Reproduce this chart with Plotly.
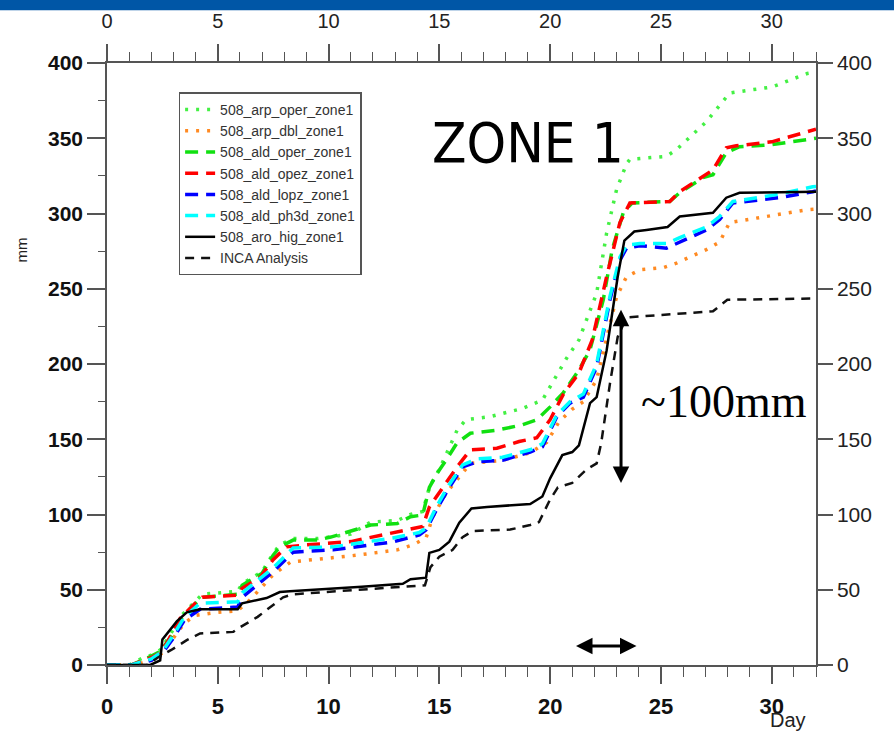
import plotly.graph_objects as go

# ---------------- data (day, accumulated mm) ----------------
arp_oper_day = [0, 1.0, 1.6, 2.0, 2.4, 2.85, 3.3, 3.85, 4.3, 5.9, 6.1, 7.0, 7.5, 7.8, 8.4, 9.5, 11, 11.9, 13.1, 13.7, 14.25, 14.55, 15.0, 15.8, 16.2, 17.3, 18.75, 19.65, 20.4, 20.75, 21.3, 22.1, 22.55, 23.0, 23.45, 23.6, 25.25, 25.7, 27.05, 28.1, 29.0, 30.0, 31.6, 32]
arp_oper_mm = [0, 0, 4.6, 6.6, 10, 20, 32, 40, 47, 49, 54, 62, 74, 80, 84, 84, 87, 95, 96, 100, 102, 118, 130, 156, 163, 165, 170.5, 176, 195, 204, 216, 247, 287, 316, 333, 336, 338, 342.4, 361, 380, 382, 384, 393, 394]

arp_dbl_day = [0, 1.2, 2.0, 2.5, 3.0, 3.5, 4.0, 5.0, 5.9, 6.5, 7.5, 8.3, 10.0, 11.3, 13.1, 13.8, 14.4, 14.7, 15.3, 15.8, 16.4, 17.85, 19.1, 19.85, 20.4, 21.0, 21.5, 22.1, 22.55, 23.0, 23.45, 24.05, 25.1, 25.7, 27.05, 27.65, 28.1, 29.3, 31.6, 32]
arp_dbl_mm = [0, 0, 3, 8, 18, 28, 33, 35, 36, 44, 60, 68.5, 71, 73, 76.5, 79.8, 84.4, 98.4, 114, 123, 134, 136, 141, 148, 161.6, 170, 175, 189.5, 218, 244.7, 258, 262.6, 264, 267, 276, 281, 294, 297, 302.5, 303]

ald_oper_day = [0, 1.1, 2.0, 2.4, 2.85, 3.3, 3.85, 4.3, 5.9, 6.1, 7.0, 7.5, 7.8, 8.4, 9.5, 10.1, 11.9, 13.1, 13.7, 14.25, 14.55, 14.9, 15.3, 15.8, 16.4, 17.6, 18.75, 19.4, 20.0, 20.6, 21.3, 21.8, 22.4, 22.8, 23.3, 23.7, 25.4, 25.85, 26.9, 27.35, 27.95, 28.55, 30.0, 31.85, 32]
ald_oper_mm = [0, 0, 6, 9, 18, 30, 39, 45, 47, 53, 61, 73, 78.5, 83, 83, 85, 93, 94, 98.5, 99.7, 118, 127.5, 136, 147.6, 154, 156, 159.6, 163, 171.5, 181, 196, 209.4, 242.7, 276, 300.5, 307, 308, 313.8, 323.8, 325.8, 340.4, 344.4, 345.7, 349.7, 350]

ald_opez_day = [0, 1.1, 2.0, 2.4, 2.7, 3.3, 4.05, 4.3, 5.9, 6.1, 6.9, 7.5, 8.1, 9.0, 11.0, 12.9, 13.8, 14.25, 14.55, 15.15, 15.8, 16.4, 17.6, 18.6, 19.4, 20.0, 20.6, 21.3, 21.9, 22.55, 23.15, 23.6, 24.9, 25.4, 25.85, 26.9, 27.35, 27.95, 28.4, 30.0, 31.7, 32]
ald_opez_mm = [0, 0, 5, 8, 14.6, 31, 42, 45, 46.5, 51, 58, 70, 78.5, 79.8, 82, 88, 91, 92, 105, 118, 131.6, 143, 144, 148.5, 151, 163, 180, 194, 216, 258, 294, 307, 308, 308, 314.5, 324.5, 329, 343.7, 345, 347.6, 355, 356]

ald_lopz_day = [0, 1.1, 2.0, 2.5, 3.0, 3.5, 4.2, 5.9, 6.1, 7.5, 8.4, 10.2, 12.9, 14.1, 14.4, 14.9, 15.45, 16.05, 16.7, 17.85, 19.1, 19.65, 20.3, 20.9, 21.5, 22.1, 22.7, 23.15, 23.45, 24.05, 25.25, 25.85, 27.05, 27.65, 28.25, 28.85, 30.35, 31.85, 32]
ald_lopz_mm = [0, 0, 3, 8, 18, 30, 37, 38.5, 45, 62, 75, 76.5, 81.8, 86.4, 89.8, 104, 118, 131.6, 135, 136, 141.5, 145, 165, 174, 178, 198, 242.7, 269, 277, 278.6, 277, 281, 289, 296, 307, 308, 310.5, 314.5, 315]

ald_ph3d_day = [0, 1.1, 2.0, 2.5, 3.0, 3.5, 4.2, 5.9, 6.1, 7.5, 8.4, 10.2, 12.9, 14.1, 14.4, 14.9, 15.45, 16.05, 16.7, 17.85, 19.1, 19.65, 20.3, 20.9, 21.5, 22.1, 22.7, 23.15, 23.45, 24.05, 25.25, 25.85, 27.05, 27.65, 28.25, 28.9, 30.4, 31.85, 32]
ald_ph3d_mm = [0, 0, 4, 9, 20, 32, 41, 42, 48, 64.5, 77.8, 78.5, 84.4, 88, 91, 106, 120, 133, 137, 138, 143, 147, 166, 175, 180, 200, 245, 271, 279, 280, 280, 284, 291, 298, 308, 309.5, 313, 317.8, 318]

aro_hig_day = [0, 1.95, 2.4, 2.5, 3.15, 3.6, 4.2, 5.9, 6.1, 7.2, 7.8, 8.25, 11.5, 13.35, 13.7, 14.4, 14.55, 15.0, 15.45, 15.9, 16.45, 17.15, 19.1, 19.65, 20.0, 20.55, 21.0, 21.3, 21.8, 22.1, 22.55, 23.05, 23.35, 23.8, 24.35, 25.3, 25.85, 27.35, 27.95, 28.55, 32]
aro_hig_mm = [0, 0, 3, 17, 29, 35, 37, 37, 41, 44.5, 48.5, 49, 52, 54, 57, 58, 74.5, 76.5, 82, 94.5, 104, 105, 107, 112, 124, 139.5, 141.5, 146, 174, 178, 209, 258, 282, 288, 289, 291, 298, 300.5, 310.5, 313.8, 314.5]

inca_day = [0, 1.8, 2.3, 2.9, 3.6, 4.2, 5.7, 6.0, 6.8, 7.4, 7.95, 8.4, 11.5, 13.1, 14.35, 14.6, 15.0, 15.6, 16.05, 16.5, 18.2, 19.1, 19.5, 20.0, 20.35, 21.0, 21.65, 22.1, 22.3, 22.7, 23.05, 23.45, 25.7, 27.35, 28.0, 32]
inca_mm = [0, 0, 5, 10, 16.5, 21, 22, 25, 32, 38.5, 45, 47, 50, 52, 53, 65, 72, 76.5, 85, 89, 90, 93, 95, 110, 118, 121, 130, 134, 147, 187, 218, 231, 233.5, 235, 242.7, 243.5]

series_names = ["508_arp_oper_zone1", "508_arp_dbl_zone1", "508_ald_oper_zone1", "508_ald_opez_zone1",
                "508_ald_lopz_zone1", "508_ald_ph3d_zone1", "508_aro_hig_zone1", "INCA Analysis"]
series_days = [arp_oper_day, arp_dbl_day, ald_oper_day, ald_opez_day, ald_lopz_day, ald_ph3d_day, aro_hig_day, inca_day]
series_mm = [arp_oper_mm, arp_dbl_mm, ald_oper_mm, ald_opez_mm, ald_lopz_mm, ald_ph3d_mm, aro_hig_mm, inca_mm]

x_ticks = [0, 5, 10, 15, 20, 25, 30]
y_ticks = [0, 50, 100, 150, 200, 250, 300, 350, 400]

# ---------------- styles ----------------
styles = [
    dict(color="#44f044", width=3.5, dash="3px,8px"),
    dict(color="#ff8a22", width=3.5, dash="3px,8px"),
    dict(color="#11e011", width=3.5, dash="13px,8px"),
    dict(color="#ff0000", width=3.5, dash="13px,8px"),
    dict(color="#0000ff", width=3.5, dash="13px,8px"),
    dict(color="#00ffff", width=3.5, dash="13px,8px"),
    dict(color="#000000", width=2.5, dash="solid"),
    dict(color="#111111", width=2.5, dash="9px,7px"),
]

fig = go.Figure()
for name, d, v, st in zip(series_names, series_days, series_mm, styles):
    fig.add_trace(go.Scatter(x=d, y=v, mode="lines", name=name, line=st, hoverinfo="skip"))

# invisible trace so that the secondary (top/right) axes are drawn
fig.add_trace(go.Scatter(x=[x_ticks[0], x_ticks[-1]], y=[y_ticks[0], y_ticks[-1]], xaxis="x2", yaxis="y2",
                         mode="lines", line=dict(width=0, color="rgba(0,0,0,0)"), showlegend=False, hoverinfo="skip"))

axis_col = "#555555"
FONT = "Liberation Sans, Arial, sans-serif"

fig.update_layout(
    width=894, height=735,
    margin=dict(l=107, r=78, t=63, b=70, autoexpand=False),
    paper_bgcolor="white", plot_bgcolor="white",
    font=dict(family=FONT, color="#222222"),
    showlegend=True,
    legend=dict(x=0.101, y=0.951, xanchor="left", yanchor="top",
                bgcolor="white", bordercolor="#555555", borderwidth=1.5,
                font=dict(family=FONT, size=14, color="#333333"),
                tracegroupgap=0, itemwidth=30),
    xaxis=dict(range=[0, 32], tickvals=x_ticks, ticks="outside", ticklen=17, tickwidth=1.5, tickcolor=axis_col,
               showline=True, linecolor=axis_col, linewidth=1.5, showgrid=False, zeroline=False, automargin=False,
               ticklabelstandoff=4,
               tickfont=dict(family="Liberation Sans, Arial", size=22, color="#111111", weight="bold"),
               minor=dict(dtick=1, ticks="outside", ticklen=10, tickwidth=1.2, tickcolor=axis_col),
               anchor="y"),
    xaxis2=dict(range=[0, 32], tickvals=x_ticks, side="top", overlaying="x", anchor="y", automargin=False,
                ticks="outside", ticklen=17, tickwidth=1.5, tickcolor=axis_col, ticklabelstandoff=8,
                showline=True, linecolor=axis_col, linewidth=1.5, showgrid=False, zeroline=False,
                tickfont=dict(family="Liberation Sans, Arial", size=20, color="#222222"),
                minor=dict(dtick=1, ticks="outside", ticklen=9, tickwidth=1.2, tickcolor=axis_col)),
    yaxis=dict(range=[0, 400], tickvals=y_ticks, ticks="outside", ticklen=18, tickwidth=1.5, tickcolor=axis_col,
               showline=True, linecolor=axis_col, linewidth=1.5, showgrid=False, zeroline=False, automargin=False,
               tickfont=dict(family="Liberation Sans, Arial", size=21, color="#111111", weight="bold"),
               minor=dict(dtick=25, ticks="outside", ticklen=7, tickwidth=1.2, tickcolor=axis_col),
               anchor="x"),
    yaxis2=dict(range=[0, 400], tickvals=y_ticks, side="right", overlaying="y", anchor="x", automargin=False,
                ticks="outside", ticklen=15, tickwidth=1.5, tickcolor=axis_col,
                showline=True, linecolor=axis_col, linewidth=1.5, showgrid=False, zeroline=False,
                tickfont=dict(family="Liberation Sans, Arial", size=21, color="#222222")),
)

# slide header band
fig.add_shape(type="rect", xref="paper", yref="paper", x0=-0.16, x1=1.12, y0=1.0875, y1=1.12,
              line=dict(width=0), fillcolor="#0056a6", layer="above")

annotations = [
    dict(text="mm", x=-0.12, y=0.69, xref="paper", yref="paper", xanchor="center", yanchor="middle",
         textangle=-90, showarrow=False, font=dict(family=FONT, size=15, color="#222222")),
    dict(text="Day", x=0.933, y=-0.092, xref="paper", yref="paper", xanchor="left", yanchor="middle",
         showarrow=False, font=dict(family=FONT, size=20, color="#222222")),
    dict(text="ZONE 1", x=19.0, y=347, xref="x", yref="y", showarrow=False,
         font=dict(family="DejaVu Sans Condensed, DejaVu Sans, Liberation Sans", size=56, color="#000000")),
    dict(text="~100mm", x=24.0, y=175, xref="x", yref="y", xanchor="left", showarrow=False,
         font=dict(family="Liberation Serif, Times New Roman, serif", size=46, color="#000000")),
    # vertical double arrow
    dict(x=23.2, y=236, ax=23.2, ay=120, xref="x", yref="y", axref="x", ayref="y", text="",
         showarrow=True, arrowhead=2, startarrowhead=2, arrowside="end+start", arrowwidth=3,
         arrowsize=1.1, startarrowsize=1.1, arrowcolor="#000000"),
    # horizontal double arrow
    dict(x=23.9, y=12.6, ax=21.1, ay=12.6, xref="x", yref="y", axref="x", ayref="y", text="",
         showarrow=True, arrowhead=2, startarrowhead=2, arrowside="end+start", arrowwidth=3,
         arrowsize=1.1, startarrowsize=1.1, arrowcolor="#000000"),
]
fig.update_layout(annotations=annotations)

# remove the default page margin so the figure sits at the window's top-left corner
fig.write_html("out.html", config={"displayModeBar": False},
               post_script="document.body.style.margin='0';document.body.style.overflow='hidden';")
